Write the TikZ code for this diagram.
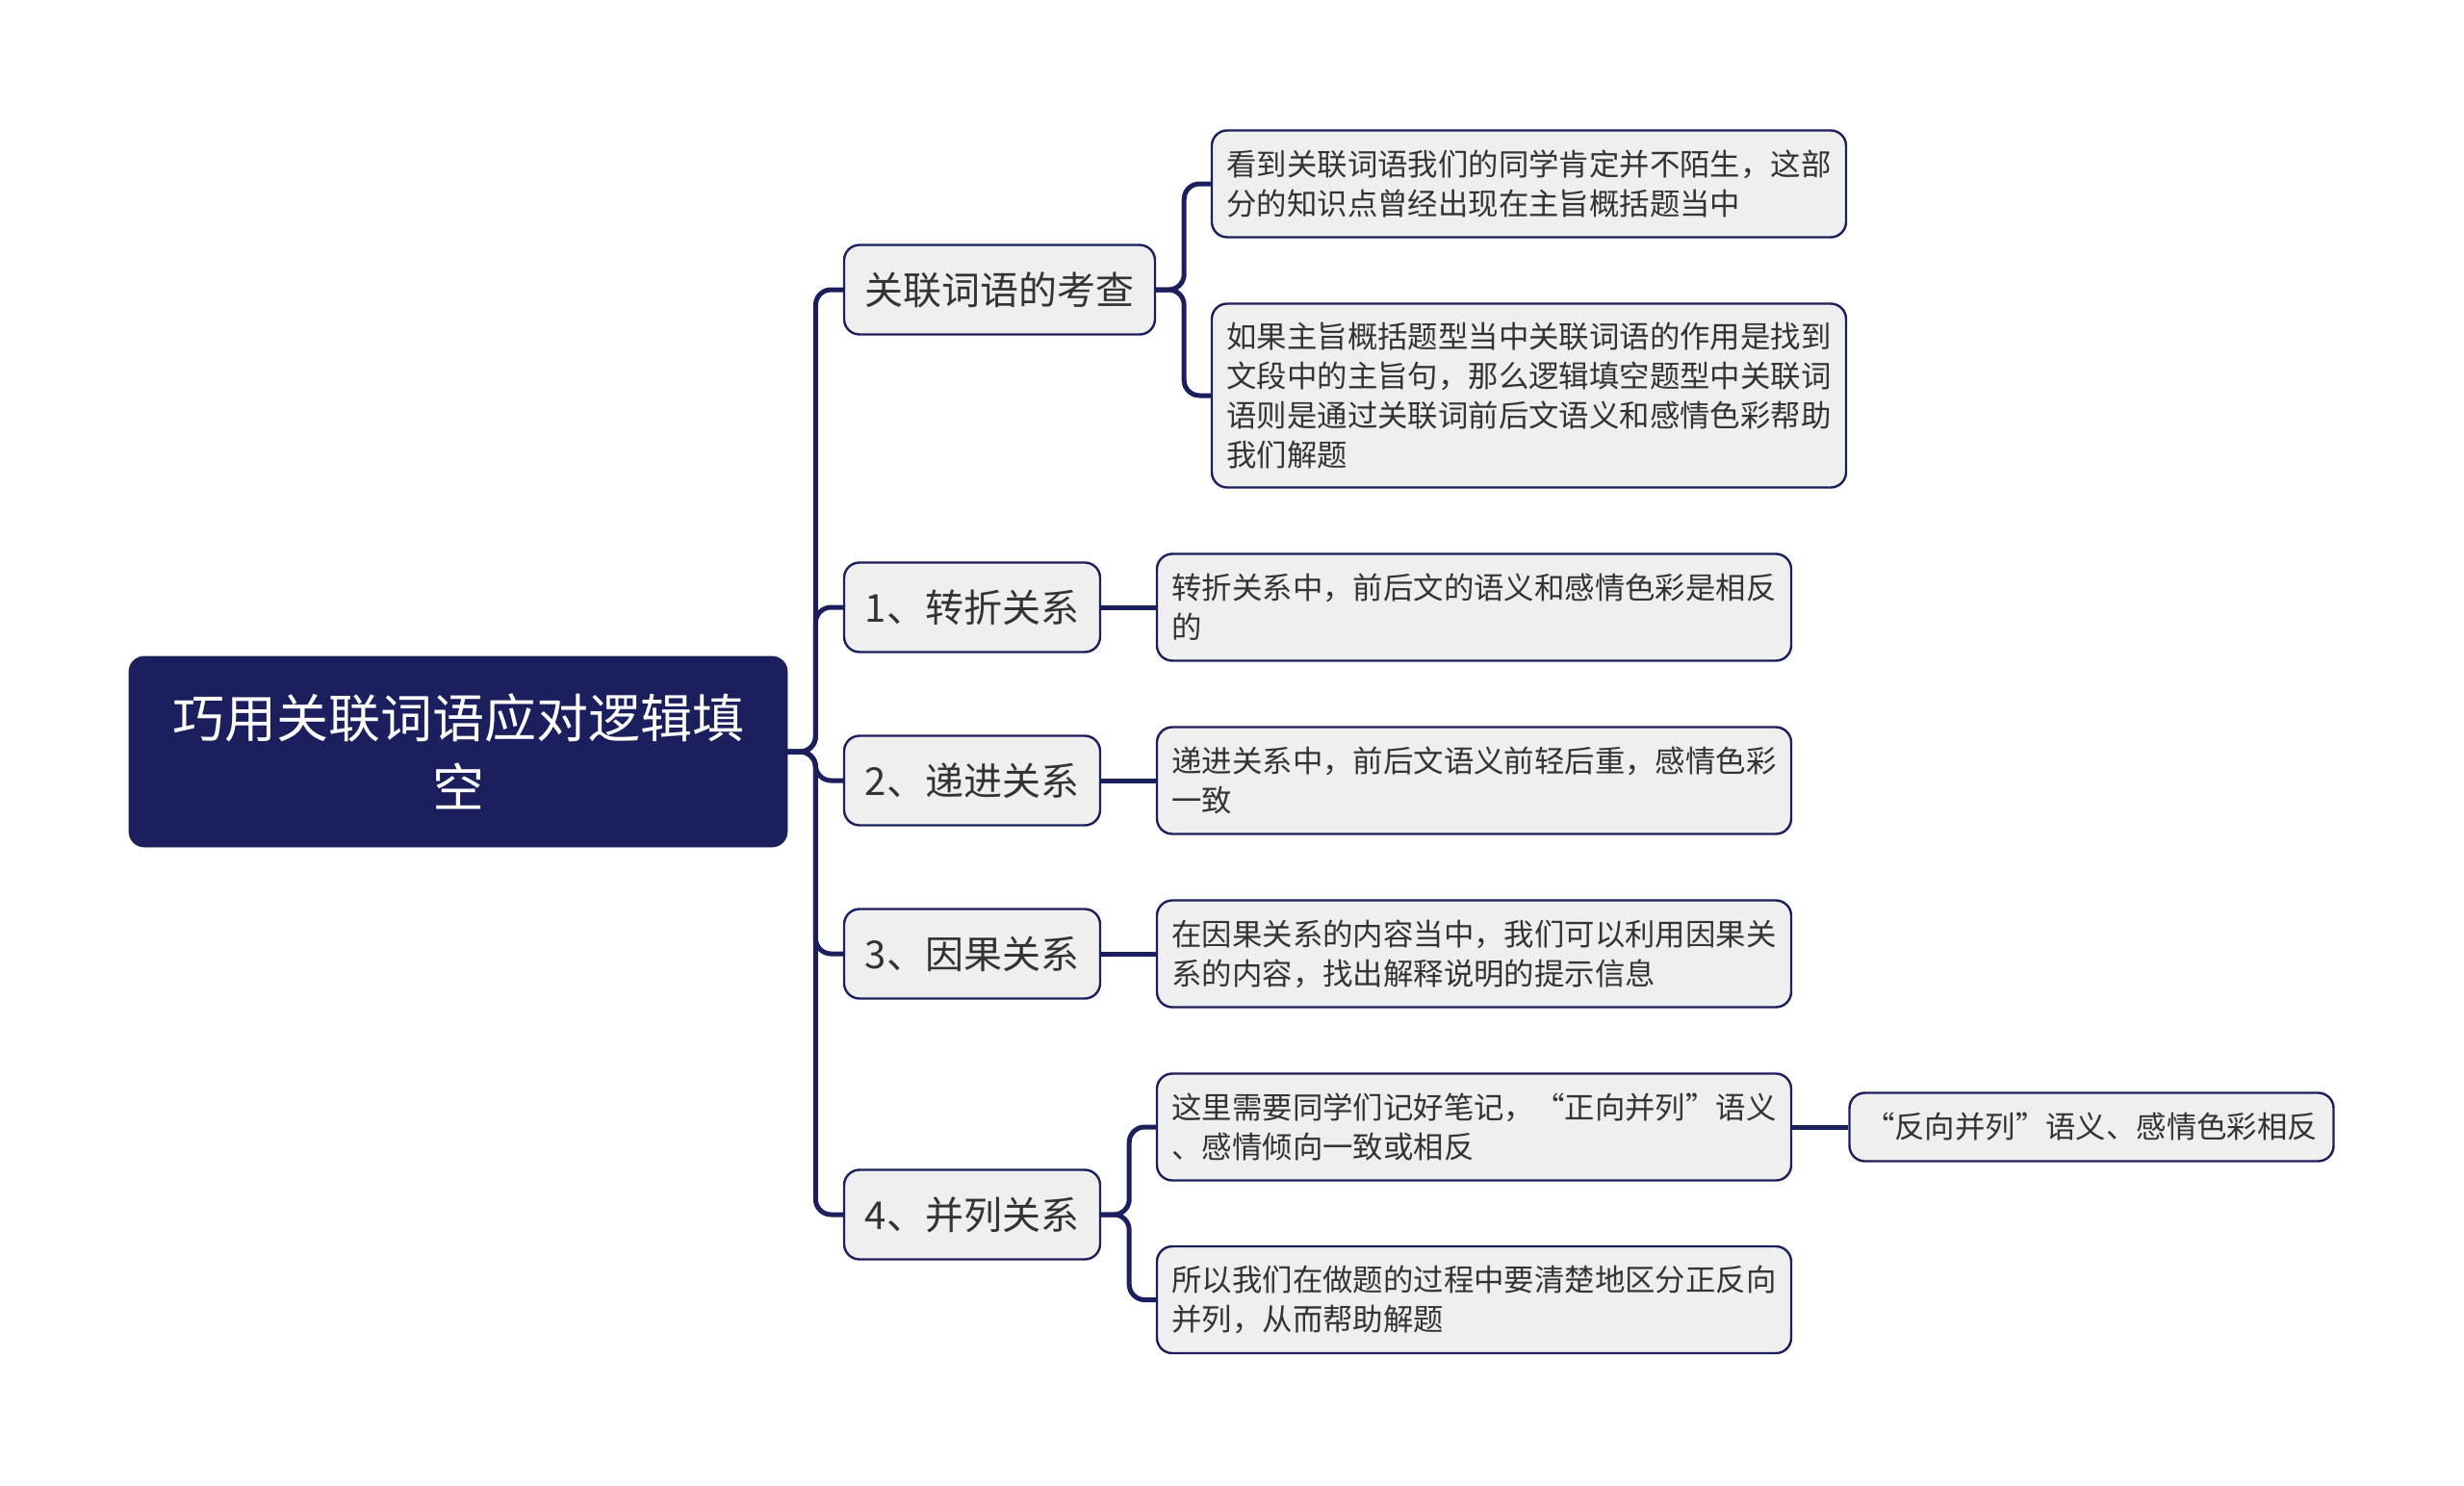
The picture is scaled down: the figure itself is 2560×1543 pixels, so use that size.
\documentclass[tikz,border=0pt]{standalone}
\usepackage{fontspec}
\newfontfamily\cjk{Noto Sans CJK SC}
\definecolor{navy}{RGB}{27,31,94}
\definecolor{boxgray}{RGB}{239,239,239}
\definecolor{textgray}{RGB}{51,51,51}
\tikzset{
  rootbox/.style={fill=navy, draw=navy, rounded corners=8pt, text=white, align=center,
    minimum width=342pt, minimum height=99pt, inner sep=0pt, font=\cjk\fontsize{27}{36}\selectfont},
  topicbox/.style={fill=boxgray, draw=navy, line width=1.2pt, rounded corners=8pt, text=textgray,
    minimum height=46.5pt, inner sep=0pt, font=\cjk\fontsize{20}{24}\selectfont},
  notebox/.style={fill=boxgray, draw=navy, line width=1.2pt, rounded corners=8pt, text=textgray,
    align=left, text width=314pt, inner xsep=7.75pt, inner ysep=0pt, minimum height=55.5pt,
    font=\cjk\fontsize{15.7}{20.5}\selectfont},
  branch/.style={draw=navy, line width=2.5pt, rounded corners=8pt},
}
\begin{document}
\begin{tikzpicture}[x=0.5pt, y=-0.5pt]
        \useasboundingbox (0,0) rectangle (2560,1543);

        % Root
        \node[rootbox] (root) at (476,781) {巧用关联词语应对逻辑填\\空};

        % Topics
        \node[topicbox, minimum width=161.5pt] (kc) at (1038.5,301) {关联词语的考查};
        \node[topicbox, minimum width=133pt] (zz) at (1010,631) {1、转折关系};
        \node[topicbox, minimum width=133pt] (dj) at (1010,811) {2、递进关系};
        \node[topicbox, minimum width=133pt] (yg) at (1010,991) {3、因果关系};
        \node[topicbox, minimum width=133pt] (bl) at (1010,1262) {4、并列关系};

        % Notes
        \node[notebox] (kc1) at (1588.5,191) {看到关联词语我们的同学肯定并不陌生，这部\\分的知识点曾经出现在主旨概括题当中};
        \node[notebox, minimum height=95.5pt] (kc2) at (1588.5,411) {如果主旨概括题型当中关联词语的作用是找到\\文段中的主旨句，那么逻辑填空题型中关联词\\语则是通过关联词前后文语义和感情色彩帮助\\我们解题};
        \node[notebox] (zz1) at (1531.5,631) {转折关系中，前后文的语义和感情色彩是相反\\的};
        \node[notebox] (dj1) at (1531.5,811) {递进关系中，前后文语义前轻后重，感情色彩\\一致};
        \node[notebox] (yg1) at (1531.5,991) {在因果关系的内容当中，我们可以利用因果关\\系的内容，找出解释说明的提示信息};
        \node[notebox] (bl1) at (1531.5,1171) {这里需要同学们记好笔记，“正向并列”语义\\、感情倾向一致或相反};
        \node[notebox] (bl2) at (1531.5,1350.5) {所以我们在做题的过程中要清楚地区分正反向\\并列，从而帮助解题};
        \node[notebox, text width=236pt, minimum height=35.5pt] (fx) at (2173,1171) {“反向并列”语义、感情色彩相反};

        % Draw branches
        \foreach \t in {kc,zz,dj,yg,bl}
            \draw[branch] (root.east) -- ++(29,0) |- (\t.west);
        \foreach \n in {kc1,kc2}
            \draw[branch] (kc.east) -- ++(29,0) |- (\n.west);
        \foreach \n in {bl1,bl2}
            \draw[branch] (bl.east) -- ++(29,0) |- (\n.west);
        \draw[branch] (zz.east) -- (zz1.west);
        \draw[branch] (dj.east) -- (dj1.west);
        \draw[branch] (yg.east) -- (yg1.west);
        \draw[branch] (bl1.east) -- (fx.west);
\end{tikzpicture}
\end{document}
